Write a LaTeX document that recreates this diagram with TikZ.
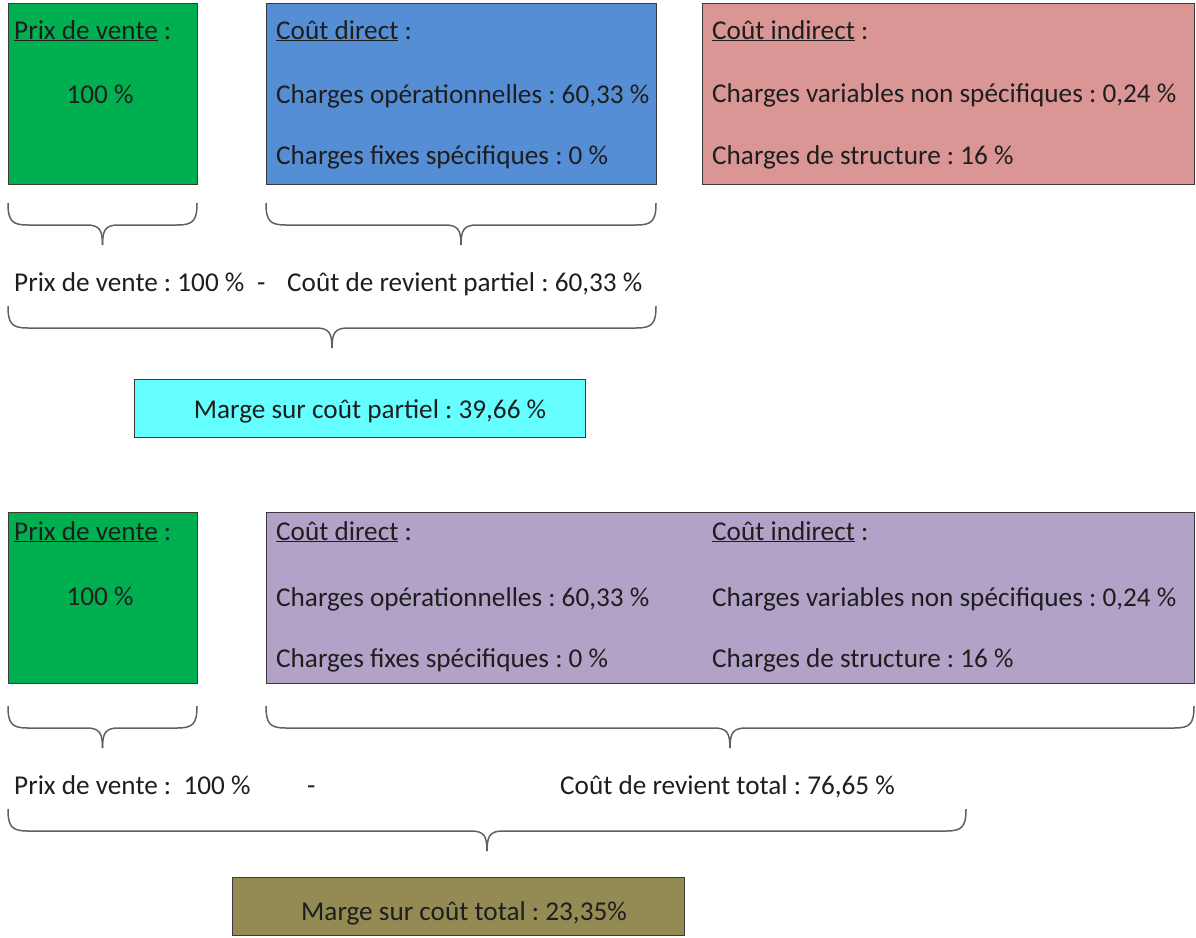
\documentclass[tikz,border=0pt]{standalone}
\usepackage{fontspec}
\setmainfont{Carlito}
\definecolor{cgreen}{HTML}{00B050}
\definecolor{cblue}{HTML}{558ED5}
\definecolor{cred}{HTML}{D99694}
\definecolor{ccyan}{HTML}{66FFFF}
\definecolor{cpurple}{HTML}{B3A2C7}
\definecolor{colive}{HTML}{948A54}
\definecolor{cborder}{HTML}{3A3A3A}
\definecolor{ctext}{HTML}{1E1E1E}
\definecolor{cbrace}{HTML}{606060}
\newcommand{\mybrace}[3]{%
  \pgfmathsetmacro\xm{(#1+#2)/2}%
  \draw[brc] (#1,#3) .. controls (#1,#3+18) and (#1+4,#3+22) .. (#1+20,#3+22) -- (\xm-16,#3+22) .. controls (\xm-3,#3+22) and (\xm,#3+27) .. (\xm,#3+42);
  \draw[brc] (#2,#3) .. controls (#2,#3+18) and (#2-4,#3+22) .. (#2-20,#3+22) -- (\xm+16,#3+22) .. controls (\xm+3,#3+22) and (\xm,#3+27) .. (\xm,#3+42);
}
\frenchspacing
\begin{document}
\frenchspacing
\begin{tikzpicture}[x=1pt,y=-1pt,
  box/.style={draw=cborder,line width=1.3pt,anchor=north west,inner sep=0pt},
  txt/.style={anchor=base west,inner sep=0pt,text=ctext,font=\fontsize{27.2}{30}\selectfont},
  ctxt/.style={anchor=base,inner sep=0pt,text=ctext,font=\fontsize{27.2}{30}\selectfont},
  brc/.style={draw=cbrace,line width=1.5pt}]
\useasboundingbox (0,0) rectangle (1196,937);
% top row boxes
\node[box,fill=cgreen,minimum width=189pt,minimum height=181pt] (g1) at (8,3) {};
\node[box,fill=cblue,minimum width=390pt,minimum height=181pt] (b1) at (266,3) {};
\node[box,fill=cred,minimum width=492pt,minimum height=181pt] (r1) at (702,3) {};
\node[txt] (g1t) at (14,39) {\underline{Prix de vente} :};
\node[ctxt] (g1v) at (100,103) {100 \%};
\node[txt] (b1t) at (276,39) {\underline{Coût direct} :};
\node[txt] (b1a) at (276,103) {Charges opérationnelles : 60,33 \%};
\node[txt] (b1b) at (276,164) {Charges fixes spécifiques : 0 \%};
\node[txt] (r1t) at (712,39) {\underline{Coût indirect} :};
\node[txt] (r1a) at (712,102) {Charges variables non spécifiques : 0,24 \%};
\node[txt] (r1b) at (712,164) {Charges de structure : 16 \%};
\mybrace{8}{197}{203}
\mybrace{266}{656}{203}
\node[txt] (l1a) at (14,291) {Prix de vente : 100 \%};
\node[txt] (l1m) at (257,291) {-};
\node[txt] (l1b) at (287,291) {Coût de revient partiel : 60,33 \%};
\mybrace{8}{656}{306}
\node[box,fill=ccyan,minimum width=451pt,minimum height=58pt] (m1) at (134,379) {};
\node[ctxt] (m1t) at (370,418) {Marge sur coût partiel : 39,66 \%};
% bottom row
\node[box,fill=cgreen,minimum width=189pt,minimum height=171pt] (g2) at (8,512) {};
\node[box,fill=cpurple,minimum width=928pt,minimum height=171pt] (p2) at (266,512) {};
\node[txt] (g2t) at (14,540) {\underline{Prix de vente} :};
\node[ctxt] (g2v) at (100,605) {100 \%};
\node[txt] (p2t) at (276,540) {\underline{Coût direct} :};
\node[txt] (p2a) at (276,606) {Charges opérationnelles : 60,33 \%};
\node[txt] (p2b) at (276,667) {Charges fixes spécifiques : 0 \%};
\node[txt] (p2u) at (712,540) {\underline{Coût indirect} :};
\node[txt] (p2c) at (712,606) {Charges variables non spécifiques : 0,24 \%};
\node[txt] (p2d) at (712,667) {Charges de structure : 16 \%};
\mybrace{8}{197}{706}
\mybrace{266}{1194}{706}
\node[txt] (l2a) at (14,794) {Prix de vente :\ \ 100 \%};
\node[txt] (l2m) at (307,794) {-};
\node[txt] (l2b) at (560,794) {Coût de revient total : 76,65 \%};
\mybrace{8}{966}{809}
\node[box,fill=colive,minimum width=452pt,minimum height=58pt] (m2) at (232,877) {};
\node[ctxt] (m2t) at (464,920) {Marge sur coût total : 23,35\%};
\end{tikzpicture}
\end{document}
